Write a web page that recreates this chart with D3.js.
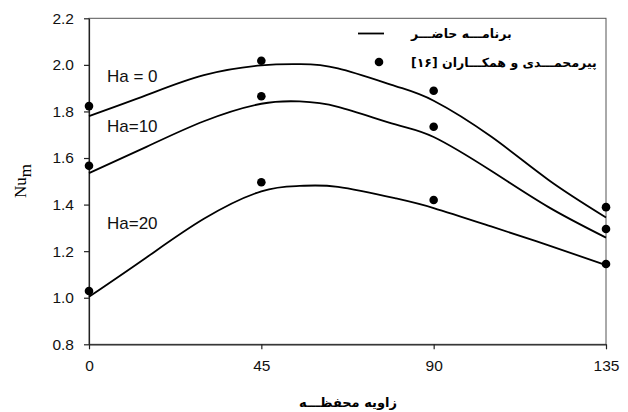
<!DOCTYPE html>
<html>
<head>
<meta charset="utf-8">
<script src="https://cdn.jsdelivr.net/npm/d3@7"></script>
<style>
  html, body { margin: 0; padding: 0; background: #fff; }
  svg { display: block; }
</style>
</head>
<body>
<svg id="chart" width="628" height="412"></svg>
<script>
// ---- data ----
const xTicks = [0, 45, 90, 135];
const yTicks = [0.8, 1.0, 1.2, 1.4, 1.6, 1.8, 2.0, 2.2];

const dotAngles = [0, 45, 90, 135];
const expHa0  = [1.823, 2.018, 1.889, 1.389];
const expHa10 = [1.567, 1.865, 1.734, 1.295];
const expHa20 = [1.029, 1.496, 1.420, 1.145];

const curveAngles = [0, 15, 30, 45, 55, 65, 80, 90, 105, 120, 135];
const simHa0  = [1.780, 1.870, 1.956, 1.998, 2.003, 1.985, 1.909, 1.846, 1.692, 1.506, 1.345];
const simHa10 = [1.535, 1.648, 1.758, 1.833, 1.843, 1.820, 1.744, 1.690, 1.545, 1.389, 1.258];
const simHa20 = [1.004, 1.173, 1.339, 1.457, 1.480, 1.476, 1.427, 1.385, 1.306, 1.225, 1.140];

const seriesLabels = ["Ha = 0", "Ha=10", "Ha=20"];
const legendLabels = ["برنامـــه حاضـــر", "پیرمحمـــدی و همکـــاران [۱۶]"];
const xTitle = "زاویه محفظـــه";

// ---- layout ----
const L = 89, R = 606, T = 18.3, B = 344.3;
const svg = d3.select("#chart");
const x = d3.scaleLinear().domain([0, 135]).range([L, R]);
const y = d3.scaleLinear().domain([0.8, 2.2]).range([B, T]);

// frame
svg.append("rect").attr("x", L).attr("y", T).attr("width", R - L).attr("height", B - T)
  .attr("fill", "none").attr("stroke", "#555").attr("stroke-width", 1);

// axes
const ax = svg.append("g").attr("transform", `translate(0,${B})`)
  .call(d3.axisBottom(x).tickValues(xTicks).tickSize(5).tickSizeOuter(0).tickPadding(7));
const ay = svg.append("g").attr("transform", `translate(${L},0)`)
  .call(d3.axisLeft(y).tickValues(yTicks).tickSize(5).tickSizeOuter(0).tickPadding(10).tickFormat(d3.format(".1f")));
[ax, ay].forEach(g => {
  g.select(".domain").attr("stroke", "#222").attr("stroke-width", 1.2);
  g.selectAll(".tick line").attr("stroke", "#222").attr("stroke-width", 1.2);
  g.selectAll(".tick text").attr("fill", "#111")
    .style("font-family", "'Liberation Sans', Arial, sans-serif").style("font-size", "15.5px");
});
ax.selectAll(".tick text").attr("dy", "0.95em");

// curves
const line = d3.line().x(d => x(d[0])).y(d => y(d[1])).curve(d3.curveNatural);
[simHa0, simHa10, simHa20].forEach(s => {
  svg.append("path").datum(curveAngles.map((a, i) => [a, s[i]]))
    .attr("d", line).attr("fill", "none").attr("stroke", "#000").attr("stroke-width", 1.8);
});

// dots
[expHa0, expHa10, expHa20].forEach(s => {
  svg.append("g").selectAll("circle").data(dotAngles.map((a, i) => [a, s[i]])).join("circle")
    .attr("cx", d => x(d[0])).attr("cy", d => y(d[1])).attr("r", 4.3).attr("fill", "#000");
});

// series labels
const labelY = [81.7, 131.7, 229.3];
seriesLabels.forEach((t, i) => {
  svg.append("text").attr("x", 107).attr("y", labelY[i]).text(t)
    .attr("fill", "#111")
    .style("font-family", "'Liberation Sans', Arial, sans-serif").style("font-size", "17px");
});

// legend
svg.append("line").attr("x1", 358).attr("x2", 384).attr("y1", 33.5).attr("y2", 33.5)
  .attr("stroke", "#000").attr("stroke-width", 1.8);
svg.append("circle").attr("cx", 379).attr("cy", 62).attr("r", 4.3).attr("fill", "#000");
const legY = [38, 67];
legendLabels.forEach((t, i) => {
  svg.append("text").attr("x", 411).attr("y", legY[i]).text(t)
    .attr("direction", "rtl").style("direction", "rtl").attr("text-anchor", "end")
    .attr("fill", "#000")
    .style("font-family", "'DejaVu Sans', sans-serif").style("font-weight", "bold").style("font-size", "12.5px");
});

// x title
svg.append("text").attr("x", 348).attr("y", 407).text(xTitle)
  .attr("direction", "rtl").style("direction", "rtl").attr("text-anchor", "middle")
  .attr("fill", "#000")
  .style("font-family", "'DejaVu Sans', sans-serif").style("font-weight", "bold").style("font-size", "13px");

// y title
const yt = svg.append("text").attr("transform", "translate(26,181) rotate(-90)")
  .attr("text-anchor", "middle").attr("fill", "#000")
  .style("font-family", "'Liberation Serif', 'Times New Roman', serif").style("font-size", "17px");
yt.append("tspan").text("Nu");
yt.append("tspan").text("m").attr("dy", "0.3em");
</script>
</body>
</html>
